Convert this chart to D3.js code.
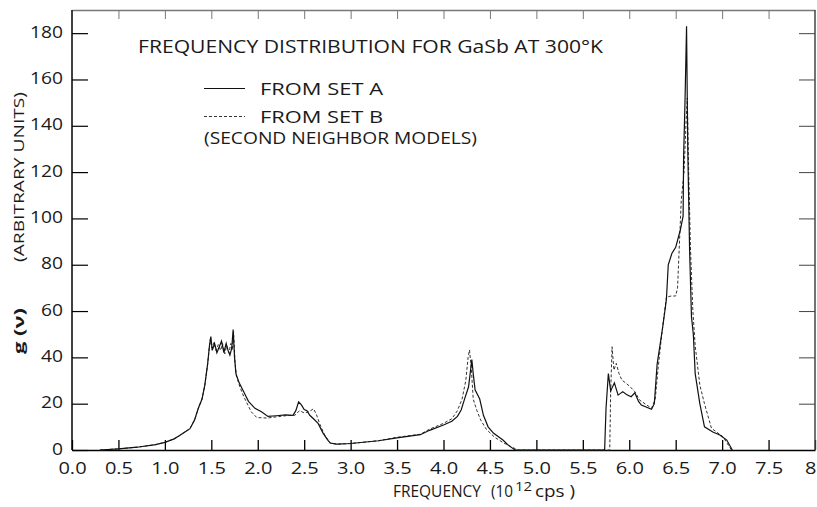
<!DOCTYPE html>
<html>
<head>
<meta charset="utf-8">
<script src="https://cdn.jsdelivr.net/npm/d3@7"></script>
<style>
  body { margin: 0; background: #fff; }
  svg text { font-family: "Open Sans", "DejaVu Sans", sans-serif; fill: #1a1a1a; }
</style>
</head>
<body>
<script>
// set A (solid)
const freqA = [0.30, 0.50, 0.70, 0.90, 1.00, 1.10, 1.15, 1.22, 1.27, 1.32, 1.36, 1.40, 1.43, 1.46, 1.48, 1.495,
  1.51, 1.535, 1.56, 1.59, 1.61, 1.635, 1.66, 1.68, 1.70, 1.72, 1.735, 1.75, 1.765, 1.80, 1.85, 1.90, 1.97,
  2.04, 2.11, 2.20, 2.30, 2.38, 2.41, 2.44, 2.47, 2.50, 2.53, 2.56, 2.60, 2.65, 2.70, 2.75, 2.78, 2.85,
  3.00, 3.30, 3.50, 3.75, 3.85, 4.00, 4.09, 4.15, 4.19, 4.23, 4.27, 4.29, 4.305, 4.32, 4.34, 4.39, 4.43,
  4.48, 4.54, 4.64, 4.70, 4.77, 5.735, 5.75, 5.775, 5.80, 5.84, 5.88, 5.93, 5.97, 6.02, 6.06, 6.10, 6.13,
  6.24, 6.27, 6.30, 6.33, 6.36, 6.40, 6.42, 6.46, 6.50, 6.55, 6.58, 6.585, 6.60, 6.617, 6.63, 6.65, 6.67,
  6.69, 6.71, 6.76, 6.81, 6.90, 6.975, 7.05, 7.11]
const gA = [0, 0.5, 1.2, 2.3, 3.3, 4.8, 6, 7.9, 9.2, 13, 18, 22, 28, 37, 45, 49,
  43, 46, 42, 45, 47, 42, 46, 43, 41, 44, 52, 40, 33, 29, 25, 21, 18,
  16.5, 14.5, 14.8, 15.2, 15, 17, 20.8, 19.5, 17.5, 17, 15, 13.5, 11.5, 7.5, 4.5, 3, 2.5,
  2.8, 4, 5.2, 6.6, 8.5, 10.8, 12.4, 14.5, 17.3, 22.4, 27.3, 34, 39, 33, 26, 22, 15,
  10, 7.2, 4.3, 2, 0, 0, 18, 33, 25.5, 29, 23.7, 25.2, 24, 23, 24.7, 21, 19.4,
  17.6, 20, 37, 45, 53, 65, 80, 85, 87.5, 95, 101, 126, 150, 183, 130, 86, 57.5,
  50, 33, 20, 10, 7.8, 6.5, 4.3, 0]

// set B (dashed)
const freqB = [0.30, 0.50, 0.70, 0.90, 1.00, 1.10, 1.15, 1.22, 1.27, 1.32, 1.36, 1.40, 1.43, 1.46, 1.48, 1.49,
  1.505, 1.53, 1.55, 1.575, 1.60, 1.62, 1.645, 1.665, 1.69, 1.71, 1.725, 1.74, 1.755, 1.77, 1.81, 1.85,
  1.93, 1.99, 2.10, 2.20, 2.30, 2.40, 2.45, 2.50, 2.55, 2.60, 2.63, 2.67, 2.72, 2.78, 2.85,
  3.00, 3.30, 3.50, 3.75, 3.85, 4.00, 4.09, 4.15, 4.20, 4.24, 4.265, 4.28, 4.30, 4.32, 4.36, 4.40,
  4.46, 4.55, 4.65, 4.80, 5.79, 5.80, 5.815, 5.835, 5.86, 5.89, 5.92, 5.96, 6.01, 6.06, 6.11, 6.19,
  6.24, 6.28, 6.31, 6.35, 6.40, 6.45, 6.50, 6.52, 6.545, 6.56, 6.59, 6.61, 6.625, 6.64, 6.66, 6.685,
  6.71, 6.76, 6.81, 6.885, 7.01, 7.10]
const gB = [0, 0.5, 1.2, 2.3, 3.3, 4.8, 6, 7.9, 9.2, 13, 18, 22, 28, 37, 45, 48,
  44, 46.5, 43, 45.5, 43, 46, 41.5, 45, 42, 46, 43, 51, 38, 32, 27, 23,
  16.5, 14, 13.8, 14.3, 14.8, 15, 17, 16, 16.5, 17.8, 15.5, 11, 6.5, 3, 2.5,
  2.8, 4, 5.5, 6.8, 9, 11.5, 13.5, 17, 22, 30, 40, 43.2, 35, 22, 17, 13,
  9, 5.5, 3, 0, 0, 25, 44.6, 34.5, 37.4, 33, 30.2, 29, 27.3, 25.2, 21.6, 19.4,
  18, 22, 35, 50, 66, 66.5, 66.5, 70, 93.6, 108, 120, 140, 152, 120, 86, 60,
  45, 28, 20, 9.4, 5.7, 0]

const xTicks = d3.range(0, 8.01, 0.5)
const yTicks = d3.range(0, 181, 20)

const w = 817
const h = 507
const padLeft = 72, padRight = 815, padTop = 10, padBottom = 450

// stretch text sideways a bit, the original lettering is wide
function widen(sel, k) {
  sel.each(function () {
    const len = this.getComputedTextLength()
    d3.select(this).attr("textLength", len * k).attr("lengthAdjust", "spacingAndGlyphs")
  })
}

const svg = d3.select("body").append("svg")
  .attr("width", w)
  .attr("height", h)

const xScale = d3.scaleLinear().domain([0, 8]).range([padLeft, padRight])
const yScale = d3.scaleLinear().domain([0, 190]).range([padBottom, padTop])

const fmtX = d => d === 8 ? "8" : d.toFixed(1)

// bottom axis, ticks pointing inward
const xAxis = d3.axisBottom(xScale).tickValues(xTicks).tickFormat(fmtX)
  .tickSizeInner(-10).tickSizeOuter(0).tickPadding(13)
const gx = svg.append("g").attr("transform", "translate(0," + padBottom + ")").call(xAxis)
gx.selectAll("text").style("font-size", "16px")
gx.selectAll("text").filter(d => d === 8).attr("text-anchor", "end").attr("x", 1)
widen(gx.selectAll("text"), 1.25)

const topAxis = d3.axisTop(xScale).tickValues(xTicks.slice(1, -1)).tickFormat("")
  .tickSizeInner(-9).tickSizeOuter(0)
svg.append("g").attr("transform", "translate(0," + padTop + ")").call(topAxis)
  .selectAll("line, path").attr("stroke", "#777")

const yAxis = d3.axisLeft(yScale).tickValues(yTicks)
  .tickSizeInner(-16).tickSizeOuter(0).tickPadding(9)
const gy = svg.append("g").attr("transform", "translate(" + padLeft + ",0)").call(yAxis)
gy.selectAll("text").style("font-size", "16px").attr("dy", "0.25em")
widen(gy.selectAll("text"), 1.2)
gy.select(".domain").attr("d", "M0," + padTop + "V" + padBottom)

const rightAxis = d3.axisRight(yScale).tickValues(yTicks.slice(1)).tickFormat("")
  .tickSizeInner(-16).tickSizeOuter(0)
const gr = svg.append("g").attr("transform", "translate(" + padRight + ",0)").call(rightAxis)
gr.select(".domain").attr("d", "M0," + padTop + "V" + padBottom)
gr.selectAll("line, path").attr("stroke", "#444")

svg.selectAll(".domain").attr("stroke-width", 1.5)
gx.selectAll("line").attr("stroke-width", 1.3)
gy.selectAll("line").attr("stroke-width", 1.2)

const line = d3.line()
  .x(d => xScale(d[0]))
  .y(d => yScale(d[1]))

svg.append("path")
  .datum(freqB.map((f, i) => [f, gB[i]]))
  .attr("d", line)
  .attr("fill", "none")
  .attr("stroke", "#333")
  .attr("stroke-width", 1)
  .attr("stroke-dasharray", "3,2")

svg.append("path")
  .datum(freqA.map((f, i) => [f, gA[i]]))
  .attr("d", line)
  .attr("fill", "none")
  .attr("stroke", "#111")
  .attr("stroke-width", 1.2)

// title and legend
svg.append("text")
  .attr("x", 138).attr("y", 53)
  .attr("textLength", 465).attr("lengthAdjust", "spacingAndGlyphs")
  .style("font-size", "18px")
  .text("FREQUENCY DISTRIBUTION FOR GaSb AT 300°K")

svg.append("line").attr("x1", 204).attr("x2", 245).attr("y1", 88.5).attr("y2", 88.5)
  .attr("stroke", "#111").attr("stroke-width", 1.2)
svg.append("line").attr("x1", 204).attr("x2", 245).attr("y1", 116.5).attr("y2", 116.5)
  .attr("stroke", "#333").attr("stroke-width", 1).attr("stroke-dasharray", "3,2")

svg.append("text").attr("x", 260).attr("y", 95)
  .attr("textLength", 123).attr("lengthAdjust", "spacingAndGlyphs")
  .style("font-size", "16px").text("FROM SET A")
svg.append("text").attr("x", 260).attr("y", 123)
  .attr("textLength", 123).attr("lengthAdjust", "spacingAndGlyphs")
  .style("font-size", "16px").text("FROM SET B")
svg.append("text").attr("x", 204).attr("y", 143.5)
  .attr("textLength", 273).attr("lengthAdjust", "spacingAndGlyphs")
  .style("font-size", "16px").text("(SECOND NEIGHBOR MODELS)")

// axis titles
svg.append("text").attr("x", 393).attr("y", 497)
  .attr("textLength", 88).attr("lengthAdjust", "spacingAndGlyphs")
  .style("font-size", "17px").text("FREQUENCY")
svg.append("text").attr("x", 491).attr("y", 497)
  .attr("textLength", 22).attr("lengthAdjust", "spacingAndGlyphs")
  .style("font-size", "16px").text("(10")
svg.append("text").attr("x", 515).attr("y", 491)
  .attr("textLength", 17).attr("lengthAdjust", "spacingAndGlyphs")
  .style("font-size", "12px").text("12")
svg.append("text").attr("x", 535).attr("y", 497)
  .attr("textLength", 40).attr("lengthAdjust", "spacingAndGlyphs")
  .style("font-size", "16px").text("cps )")

svg.append("text")
  .attr("transform", "translate(24,177) rotate(-90)")
  .attr("text-anchor", "middle")
  .attr("textLength", 170).attr("lengthAdjust", "spacingAndGlyphs")
  .style("font-size", "15px")
  .text("(ARBITRARY UNITS)")

svg.append("text")
  .attr("transform", "translate(24,331) rotate(-90)")
  .attr("text-anchor", "middle")
  .attr("textLength", 46).attr("lengthAdjust", "spacingAndGlyphs")
  .style("font-size", "15px")
  .style("font-weight", "bold")
  .text("g (ν)")
</script>
</body>
</html>
